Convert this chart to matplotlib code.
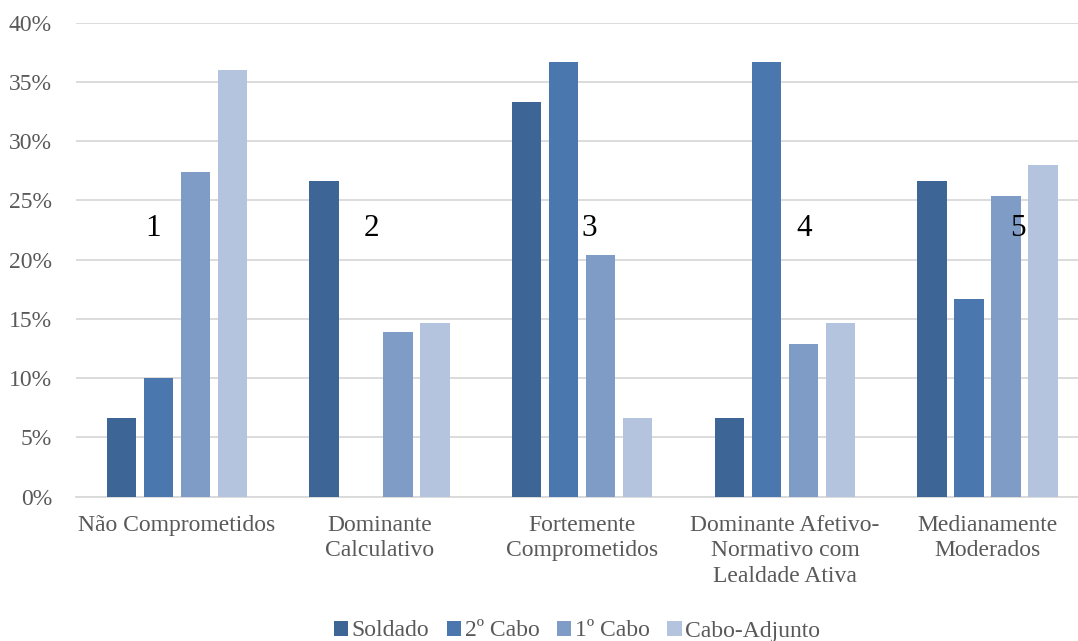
import numpy as np
from matplotlib import pyplot as plt
from matplotlib.ticker import PercentFormatter

categories = ['Não Comprometidos', 'Dominante\nCalculativo', 'Fortemente\nComprometidos',
              'Dominante Afetivo-\nNormativo com\nLealdade Ativa', 'Medianamente\nModerados']
series = ['Soldado', '2º Cabo', '1º Cabo', 'Cabo-Adjunto']
soldado = [6.67, 26.67, 33.33, 6.67, 26.67]
cabo2 = [10.0, 0.0, 36.67, 36.67, 16.67]
cabo1 = [27.4, 13.9, 20.4, 12.9, 25.4]
cabo_adjunto = [36.0, 14.67, 6.67, 14.67, 28.0]
cluster_labels = ['1', '2', '3', '4', '5']

colors = ['#3d6595', '#4a78ae', '#7f9cc7', '#b4c3de']
values = [soldado, cabo2, cabo1, cabo_adjunto]

plt.rcParams['font.family'] = ['Liberation Serif', 'DejaVu Serif']

fig = plt.figure(figsize=(10.78, 6.41), dpi=100)
ax = fig.add_axes([75.6 / 1078, 1 - 496.7 / 641, 1 - 75.6 / 1078, (496.7 - 22.7) / 641])

x = np.arange(len(categories))
step = 0.1825
width = 0.145
for i, (name, vals, c) in enumerate(zip(series, values, colors)):
    ax.bar(x + (i - 1.5) * step, vals, width, color=c, label=name, zorder=3)

# numbered labels placed inside the plot
label_x = [-0.118, 0.962, 2.033, 3.097, 4.148]
for lx, t in zip(label_x, cluster_labels):
    ax.text(lx, 22.6, t, fontsize=22.5, color='black', ha='center', va='center', zorder=4)

ax.set_xlim(-0.5, 4.446)
ax.set_ylim(0, 40)
ax.set_yticks(np.arange(0, 41, 5))
ax.yaxis.set_major_formatter(PercentFormatter(100, decimals=0))
ax.set_xticks(x)
ax.set_xticklabels(categories, fontsize=17, color='#595959', linespacing=1.28)
ax.tick_params(axis='y', length=0, labelsize=17, labelcolor='#595959', pad=17)
ax.tick_params(axis='x', length=0, pad=13)
ax.grid(axis='y', color='#d9d9d9', linewidth=1.3, zorder=0)
for s in ['top', 'right', 'left']:
    ax.spines[s].set_visible(False)
ax.spines['bottom'].set_color('#d9d9d9')
ax.spines['bottom'].set_linewidth(1.3)

fig.legend(loc='center', bbox_to_anchor=(577 / 1078, 1 - 631 / 641), ncol=4, frameon=False,
           fontsize=17, handlelength=0.6, handleheight=0.6, handletextpad=0.15,
           columnspacing=0.75, labelcolor='#595959')

fig.savefig('out.png', dpi=100)
